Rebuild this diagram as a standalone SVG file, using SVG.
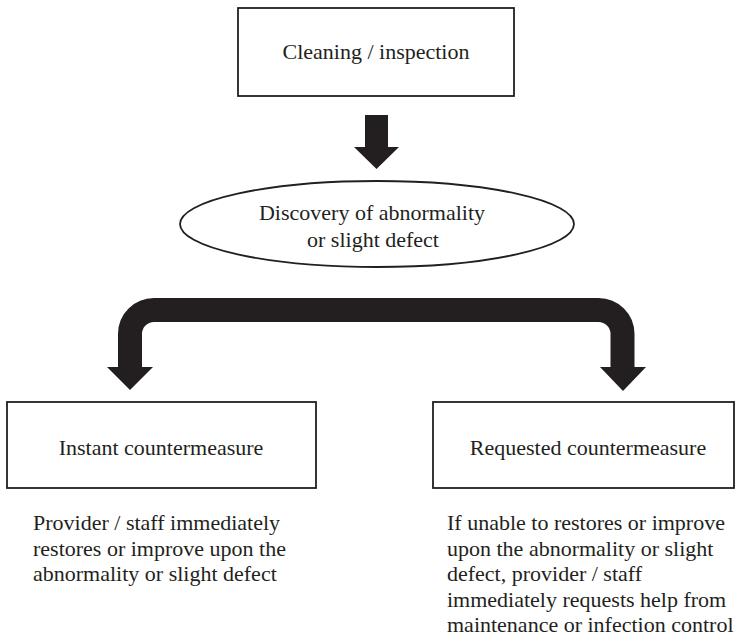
<svg xmlns="http://www.w3.org/2000/svg" width="736" height="643" viewBox="0 0 736 643">
  <style>
    .box { fill: #ffffff; stroke: #231f20; stroke-width: 1.8; }
    .arrow { fill: #231f20; stroke: none; }
    .pipe { fill: none; stroke: #231f20; stroke-width: 24; }
    text { font-family: "Liberation Serif", "Times New Roman", serif; font-size: 22px; fill: #231f20; }
    .c { text-anchor: middle; }
  </style>
  <rect width="736" height="643" fill="#ffffff"/>

  <g id="connectors">
    <!-- straight arrow from cleaning to discovery -->
    <polygon class="arrow" points="365,115 388,115 388,147 399,147 376.5,169 354,147 365,147"/>
    <!-- split arrow to the two countermeasures -->
    <path class="pipe" d="M130,368 V334 A24,24 0 0 1 154,310 H598.5 A24,24 0 0 1 622.5,334 V368"/>
    <polygon class="arrow" points="107,367 153,367 130,390"/>
    <polygon class="arrow" points="600,367 646,367 623,391"/>
  </g>

  <g id="cleaning">
    <rect class="box" x="238" y="8" width="276" height="88"/>
    <text class="c" x="376" y="59">Cleaning / inspection</text>
  </g>

  <g id="discovery">
    <ellipse class="box" cx="377" cy="224" rx="197" ry="43"/>
    <text class="c" x="372" y="220">Discovery of abnormality</text>
    <text class="c" x="373" y="247">or slight defect</text>
  </g>

  <g id="instant">
    <rect class="box" x="7" y="402" width="309" height="86"/>
    <text class="c" x="161" y="455">Instant countermeasure</text>
  </g>

  <g id="requested">
    <rect class="box" x="433" y="402" width="301" height="86"/>
    <text class="c" x="588" y="455">Requested countermeasure</text>
  </g>

  <g id="instant-note">
    <text x="33" y="530">Provider / staff immediately</text>
    <text x="33" y="556">restores or improve upon the</text>
    <text x="33" y="581">abnormality or slight defect</text>
  </g>

  <g id="requested-note">
    <text x="447" y="530">If unable to restores or improve</text>
    <text x="447" y="556">upon the abnormality or slight</text>
    <text x="447" y="581">defect, provider / staff</text>
    <text x="447" y="607">immediately requests help from</text>
    <text x="447" y="632">maintenance or infection control</text>
  </g>
</svg>
